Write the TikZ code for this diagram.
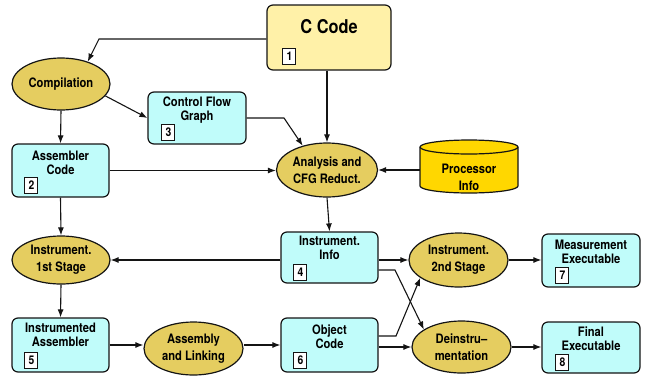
\documentclass[tikz,border=0pt]{standalone}
\usepackage{fontspec}
\setmainfont{TeX Gyre Heros}[FakeStretch=0.86]
\usetikzlibrary{shapes.geometric,fit,arrows.meta}

\definecolor{datafill}{RGB}{192,252,250}
\definecolor{stepfill}{RGB}{229,205,96}
\definecolor{srcfill}{RGB}{255,241,168}
\definecolor{dbfill}{RGB}{255,215,0}
\definecolor{edge}{RGB}{20,20,20}

\tikzset{
  x=1pt, y=-1pt,
  conn/.style={draw=edge, line width=1.1pt, -{Latex[length=8pt,width=6pt]}},
  databox/.style={draw=edge, line width=1.2pt, rounded corners=6pt, fill=datafill, inner sep=0pt},
  srcbox/.style={databox, fill=srcfill},
  stepell/.style={ellipse, draw=edge, fill=stepfill, line width=1.2pt, inner sep=0pt,
    font=\bfseries\fontsize{13}{17}\selectfont, align=center},
  boxtext/.style={font=\bfseries\fontsize{13}{14.5}\selectfont, align=center, inner sep=0pt, anchor=north},
  numbox/.style={draw=edge, fill=white, line width=0.9pt, minimum width=13pt, minimum height=16pt,
    inner sep=0pt, font=\bfseries\fontsize{12}{12}\selectfont},
}

\begin{document}
\begin{tikzpicture}
\useasboundingbox (0,0) rectangle (650,378);

% ---- data boxes ----
\node[srcbox, fit={(267,5) (391,70)}] (ccode) {};
\node[boxtext, font=\bfseries\fontsize{19}{22}\selectfont] (ccodet) at ([yshift=-15pt]ccode.north) {C Code};
\node[numbox] (n1) at ([xshift=23pt,yshift=14pt]ccode.south west) {1};

\node[databox, fit={(12,144) (109,197)}] (asm) {};
\node[boxtext] (asmt) at ([yshift=-7pt]asm.north) {Assembler\\Code};
\node[numbox] (n2) at ([xshift=20pt,yshift=12pt]asm.south west) {2};

\node[databox, fit={(148,92) (246,144)}] (cfg) {};
\node[boxtext] (cfgt) at ([yshift=-5pt]cfg.north) {Control Flow\\Graph};
\node[numbox] (n3) at ([xshift=21pt,yshift=12pt]cfg.south west) {3};

\node[databox, fit={(281,232) (378,283)}] (info) {};
\node[boxtext] (infot) at ([yshift=-4pt]info.north) {Instrument.\\Info};
\node[numbox] (n4) at ([xshift=20pt,yshift=11pt]info.south west) {4};

\node[databox, fit={(12,318) (109,372)}] (iasm) {};
\node[boxtext] (iasmt) at ([yshift=-5pt]iasm.north) {Instrumented\\Assembler};
\node[numbox] (n5) at ([xshift=20pt,yshift=12pt]iasm.south west) {5};

\node[databox, fit={(281,318) (378,372)}] (obj) {};
\node[boxtext] (objt) at ([yshift=-7pt]obj.north) {Object\\Code};
\node[numbox] (n6) at ([xshift=20pt,yshift=12pt]obj.south west) {6};

\node[databox, fit={(542,234) (640,287)}] (meas) {};
\node[boxtext] (meast) at ([yshift=-6pt]meas.north) {Measurement\\Executable};
\node[numbox] (n7) at ([xshift=21pt,yshift=12pt]meas.south west) {7};

\node[databox, fit={(542,322) (640,373)}] (final) {};
\node[boxtext] (finalt) at ([yshift=-5pt]final.north) {Final\\Executable};
\node[numbox] (n8) at ([xshift=21pt,yshift=11pt]final.south west) {8};

% ---- processing steps ----
\node[stepell, minimum width=98pt, minimum height=52pt] (comp) at (61,84) {Compilation};
\node[stepell, minimum width=101pt, minimum height=54pt] (ana) at (327,170) {Analysis and\\CFG Reduct.};
\node[stepell, minimum width=98pt, minimum height=48pt] (st1) at (61,260) {Instrument.\\1st Stage};
\node[stepell, minimum width=99pt, minimum height=54pt] (st2) at (458.5,260) {Instrument.\\2nd Stage};
\node[stepell, minimum width=99pt, minimum height=53pt] (link) at (193.5,348.5) {Assembly\\and Linking};
\node[stepell, minimum width=99pt, minimum height=52pt] (deins) at (461.5,347) {Deinstru--\\mentation};

% ---- processor database (cylinder) ----
\node[fit={(420,140) (518,193)}, inner sep=0pt] (proc) {};
\filldraw[draw=edge, fill=dbfill, line width=1.2pt]
  (420,147) -- (420,186) arc (180:0:49 and 7) -- (518,147) arc (0:-180:49 and 7) -- cycle;
\draw[draw=edge, line width=1.2pt] (420,147) arc (180:0:49 and 7);
\node[boxtext, anchor=center, font=\bfseries\fontsize{13}{17}\selectfont] (proct) at (469,177) {Processor\\Info};

% ---- connectors ----
\coordinate (k1) at (99,39);
\draw[conn] (ccode.west |- k1) -- (k1) -- (comp.40);
\draw[conn] (ana.north |- ccode.south) -- (ana.north);
\draw[conn] (comp.-15) -- (cfg.west);
\draw[conn] (comp.south) -- (asm.north);
\coordinate (k2) at (284,118);
\draw[conn] (cfg.east) -- (k2) -- (ana.135);
\draw[conn] (asm.east) -- (asm.east -| ana.west);
\draw[conn] (proc.west |- ana.east) -- (ana.east);
\draw[conn] (ana.south) -- (info.north);
\draw[conn] (asm.south) -- (st1.north);
\draw[conn] (info.west |- st1.east) -- (st1.east);
\draw[conn] (st1.south) -- (iasm.north);
\draw[conn] (iasm.east) -- (iasm.east -| link.west);
\draw[conn] (link.east |- obj.west) -- (obj.west);
\draw[conn] (info.east |- st2.west) -- (st2.west);
\coordinate (k3) at (395,270);
\draw[conn] (info.east |- k3) -- (k3) -- (deins.155);
\coordinate (k4) at (396,336);
\draw[conn] (obj.east |- k4) -- (k4) -- (st2.205);
\draw[conn] (obj.east |- deins.west) -- (deins.west);
\draw[conn] (st2.east) -- (st2.east -| meas.west);
\draw[conn] (deins.east) -- (deins.east -| final.west);
\end{tikzpicture}
\end{document}
